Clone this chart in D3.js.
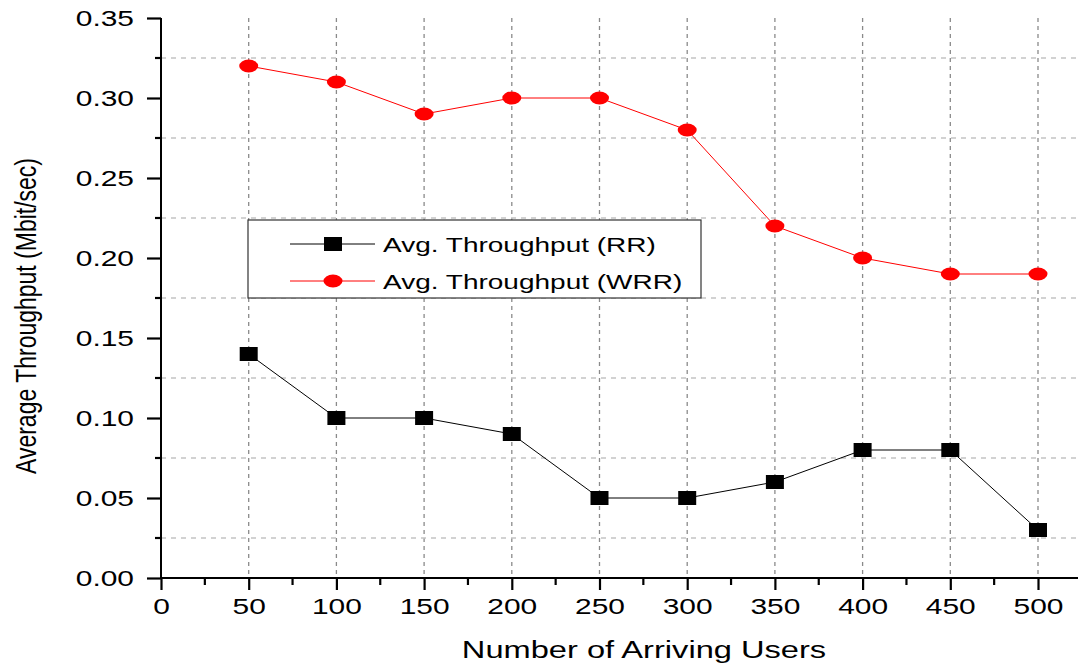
<!DOCTYPE html>
<html>
<head>
<meta charset="utf-8">
<script src="https://cdn.jsdelivr.net/npm/d3@7"></script>
<style>
  body { margin: 0; background: #fff; }
  text { font-family: "Liberation Sans", Arial, sans-serif; fill: #000; }
</style>
</head>
<body>
<svg id="chart" width="1079" height="665"></svg>
<script>
// data
var users = [50, 100, 150, 200, 250, 300, 350, 400, 450, 500];
var rrThroughput = [0.14, 0.10, 0.10, 0.09, 0.05, 0.05, 0.06, 0.08, 0.08, 0.03];
var wrrThroughput = [0.32, 0.31, 0.29, 0.30, 0.30, 0.28, 0.22, 0.20, 0.19, 0.19];
var xTicks = [0, 50, 100, 150, 200, 250, 300, 350, 400, 450, 500];
var yTicks = [0, 0.05, 0.10, 0.15, 0.20, 0.25, 0.30, 0.35];
var seriesNames = ["Avg. Throughput (RR)", "Avg. Throughput (WRR)"];

var svg = d3.select("#chart");
var plotL = 161, plotR = 1078, plotT = 18, plotB = 578;
var sx = 1.36; // the source figure is stretched sideways

var x = d3.scaleLinear().domain([0, 500]).range([161, 1038]);
var y = d3.scaleLinear().domain([0, 0.35]).range([plotB, plotT]);

var minorX = d3.range(25, 525, 50);
var minorY = d3.range(0.025, 0.35, 0.05);

// grid: vertical at major x, horizontal at minor y
svg.append("g").selectAll("line").data(users).join("line")
  .attr("x1", d => x(d)).attr("x2", d => x(d))
  .attr("y1", plotT).attr("y2", plotB)
  .attr("stroke", "#8a8a8a").attr("stroke-width", 1.3)
  .attr("stroke-dasharray", "4,4");
svg.append("g").selectAll("line").data(minorY).join("line")
  .attr("x1", plotL).attr("x2", plotR)
  .attr("y1", d => y(d)).attr("y2", d => y(d))
  .attr("stroke", "#c4c4c4").attr("stroke-width", 1.3)
  .attr("stroke-dasharray", "5,5");

// axes
var xAxis = svg.append("g").attr("transform", "translate(0," + plotB + ")")
  .call(d3.axisBottom(x).tickValues(xTicks).tickSize(12).tickPadding(8).tickFormat(d3.format("d")));
xAxis.select(".domain").attr("d", "M" + plotL + ",0H" + plotR).attr("stroke-width", 2);
xAxis.selectAll(".tick line").attr("stroke-width", 2.2);
xAxis.selectAll("text").style("font-size", "22px").attr("fill", "#000")
  .attr("transform", "scale(" + sx + ",1)");
xAxis.append("g").selectAll("line").data(minorX).join("line")
  .attr("x1", d => x(d)).attr("x2", d => x(d))
  .attr("y1", 0).attr("y2", 7).attr("stroke", "#000").attr("stroke-width", 2.2);

var yAxis = svg.append("g").attr("transform", "translate(" + plotL + ",0)")
  .call(d3.axisLeft(y).tickValues(yTicks).tickSize(14).tickPadding(13).tickFormat(d3.format(".2f")));
yAxis.select(".domain").attr("d", "M0," + plotT + "V" + plotB).attr("stroke-width", 2);
yAxis.selectAll(".tick line").attr("stroke-width", 2.2);
yAxis.selectAll("text").style("font-size", "22px").attr("fill", "#000")
  .attr("x", -27 / sx).attr("transform", "scale(" + sx + ",1)");
yAxis.append("g").selectAll("line").data(minorY).join("line")
  .attr("x1", 0).attr("x2", -6)
  .attr("y1", d => y(d)).attr("y2", d => y(d)).attr("stroke", "#000").attr("stroke-width", 2.2);

// titles
svg.append("text").attr("transform", "translate(644,658) scale(" + sx + ",1)").attr("text-anchor", "middle")
  .style("font-size", "24px").text("Number of Arriving Users");
svg.append("text").attr("transform", "translate(36,316) scale(1.3,1) rotate(-90)").attr("text-anchor", "middle")
  .style("font-size", "23px").text("Average Throughput (Mbit/sec)");

var line = d3.line().x((d, i) => x(users[i])).y(d => y(d));

// RR series
svg.append("path").datum(rrThroughput).attr("d", line)
  .attr("fill", "none").attr("stroke", "#000").attr("stroke-width", 1);
svg.append("g").selectAll("rect").data(rrThroughput).join("rect")
  .attr("x", (d, i) => x(users[i]) - 9).attr("y", d => y(d) - 7)
  .attr("width", 18).attr("height", 14).attr("fill", "#000");

// WRR series
svg.append("path").datum(wrrThroughput).attr("d", line)
  .attr("fill", "none").attr("stroke", "#f00").attr("stroke-width", 1);
svg.append("g").selectAll("ellipse").data(wrrThroughput).join("ellipse")
  .attr("cx", (d, i) => x(users[i])).attr("cy", d => y(d))
  .attr("rx", 9.5).attr("ry", 6.5).attr("fill", "#f00");

// legend
var lg = svg.append("g");
lg.append("rect").attr("x", 248).attr("y", 220).attr("width", 453).attr("height", 78)
  .attr("fill", "#fff").attr("stroke", "#333").attr("stroke-width", 1.2);
var colors = ["#000", "#f00"];
seriesNames.forEach(function(name, i) {
  var ly = 244 + i * 37;
  lg.append("line").attr("x1", 290).attr("x2", 375).attr("y1", ly).attr("y2", ly)
    .attr("stroke", colors[i]).attr("stroke-width", 1);
  if (i === 0) {
    lg.append("rect").attr("x", 324).attr("y", ly - 7).attr("width", 18).attr("height", 14).attr("fill", "#000");
  } else {
    lg.append("ellipse").attr("cx", 333).attr("cy", ly).attr("rx", 9.5).attr("ry", 6.5).attr("fill", "#f00");
  }
  lg.append("text").attr("transform", "translate(383," + (ly + 8) + ") scale(1.4,1)")
    .style("font-size", "20px").text(name);
});
</script>
</body>
</html>
